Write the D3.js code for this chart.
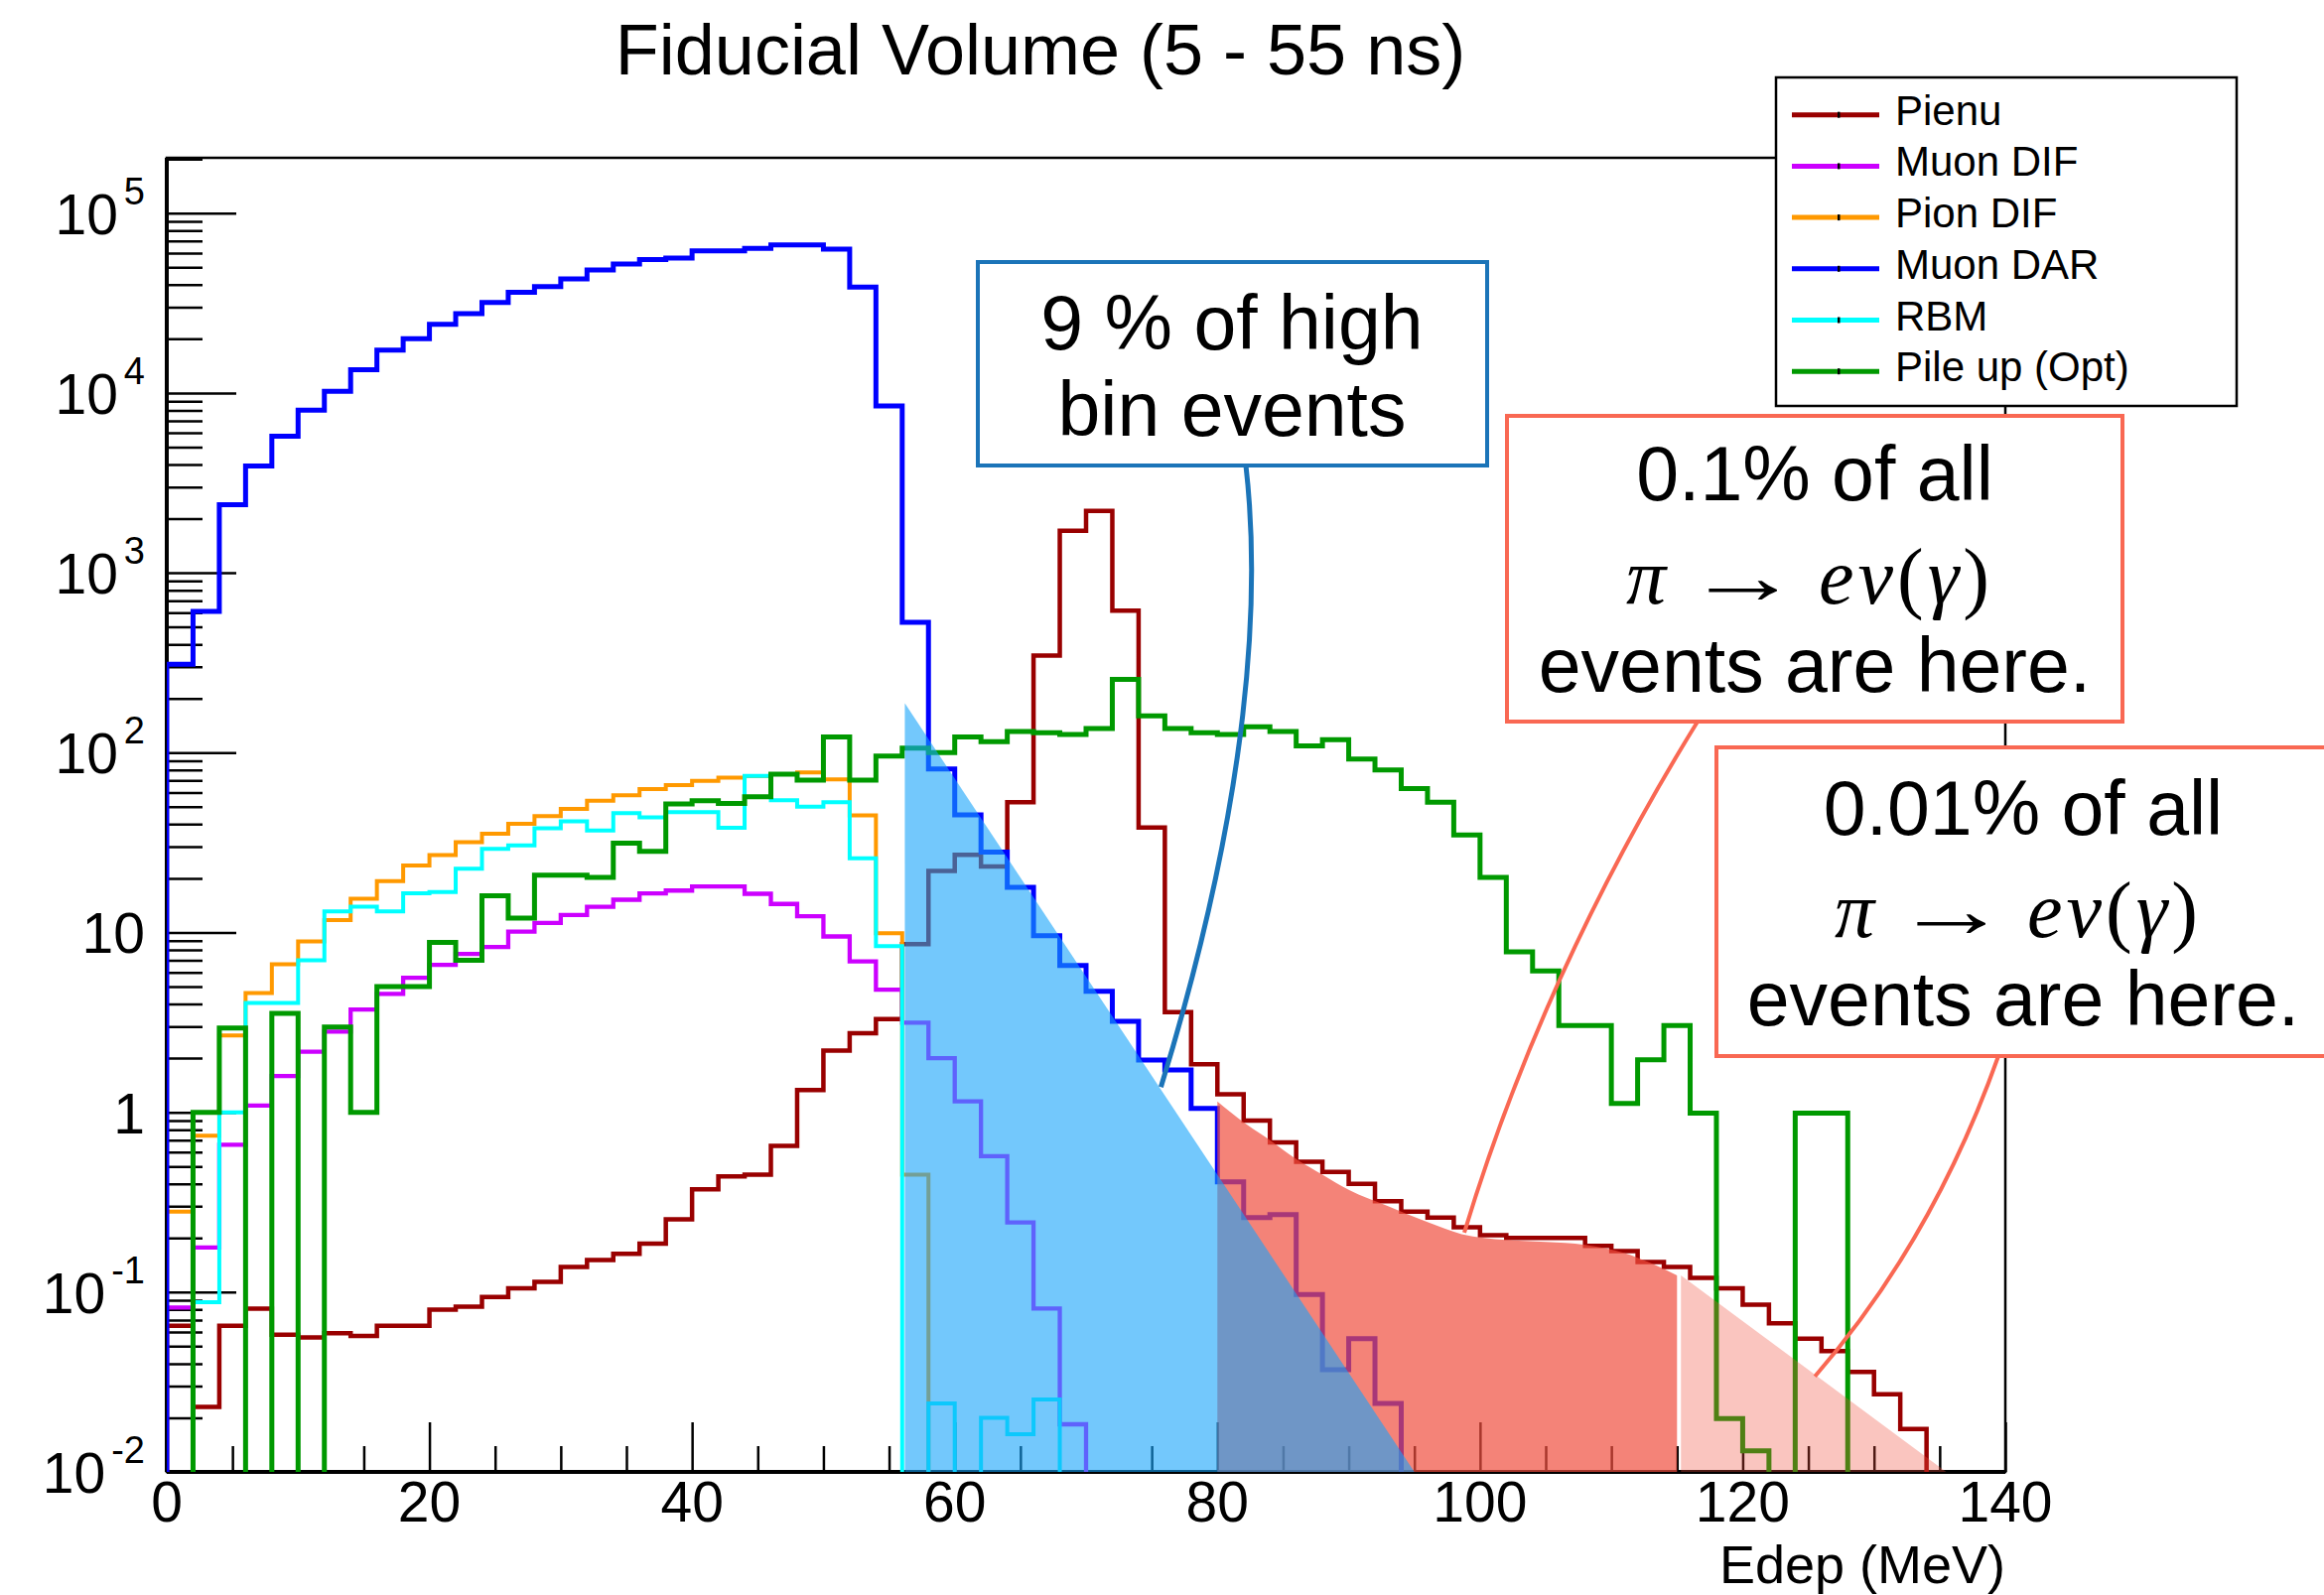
<!DOCTYPE html>
<meta charset="utf-8">
<script src="https://d3js.org/d3.v7.min.js"></script>
<style>
body{margin:0;background:#fff;}
text{font-family:'Liberation Sans',Arial,Helvetica,sans-serif;}
.math{font-family:'Liberation Serif','DejaVu Serif',serif;}
</style>
<div id="chart"></div>
<script>
// histograms: 70 bins of 2 MeV from 0 to 140 MeV (bin i = [2i, 2i+2])
var pienu = [0.065,0.023,0.065,0.081,0.058,0.056,0.059,0.057,0.065,0.065,
  0.080,0.083,0.094,0.105,0.114,0.138,0.151,0.163,0.186,0.254,
  0.373,0.44,0.45,0.65,1.33,2.2,2.75,3.3,8.6,22,
  27,23.3,53,346,1714,2207,615,38.3,3.6,1.85,
  1.26,0.90,0.68,0.53,0.466,0.40,0.32,0.28,0.26,0.229,
  0.207,0.20,0.20,0.20,0.181,0.169,0.147,0.138,0.12,0.105,
  0.085,0.067,0.055,0.047,0.036,0.027,0.0173,0,0,0]
var muonDIF = [0.082,0.177,0.66,1.09,1.59,2.17,2.81,3.73,4.55,5.6,
  6.6,7.6,8.3,10.1,11.3,12.5,13.9,15.2,16.5,17.1,
  18,18,16.4,14.4,12.3,9.5,6.9,4.8,3.15,2.0,
  1.15,0.57,0.244,0.081,0.0184,0,0,0,0,0,
  0,0,0,0,0,0,0,0,0,0,
  0,0,0,0,0,0,0,0,0,0,
  0,0,0,0,0,0,0,0,0,0]
var pionDIF = [0.28,0.74,2.67,4.6,6.65,8.9,11.7,15.4,19.3,23.6,
  26.9,31.8,35.4,40.2,44.3,48.6,54,58,62.7,66,
  69.7,72.6,74,75.9,77.5,71,44.7,9.9,0.45,0,
  0,0,0,0,0,0,0,0,0,0,
  0,0,0,0,0,0,0,0,0,0,
  0,0,0,0,0,0,0,0,0,0,
  0,0,0,0,0,0,0,0,0,0]
var muonDAR = [310,610,2390,3920,5750,8020,10200,13460,17300,20000,
  24100,27600,31800,36300,39000,43000,48300,52100,55200,56300,
  61600,61600,63700,66500,66500,63000,38800,8470,530,81,
  45,28,17.8,9.6,6.55,4.7,3.2,1.95,1.72,1.05,
  0.41,0.26,0.27,0.097,0.037,0.055,0.024,0,0,0,
  0,0,0,0,0,0,0,0,0,0,
  0,0,0,0,0,0,0,0,0,0]
var rbm = [0,0.088,1.0,4.06,4.06,7.0,13.1,13.9,13.1,16.5,
  16.8,22.6,29.2,30.5,38,41.5,36.9,46,43.7,46.6,
  46.6,38.2,74.2,54.4,50,52.9,25.8,8.4,0,0.024,
  0,0.020,0.0162,0.0253,0,0,0,0,0,0,
  0,0,0,0,0,0,0,0,0,0,
  0,0,0,0,0,0,0,0,0,0,
  0,0,0,0,0,0,0,0,0,0]
var pileUp = [0,1.0,2.94,0,3.55,0,2.98,1.0,5.0,5.0,
  8.8,7.0,16,12,20.8,20.8,20.2,31.4,28.2,51.8,
  54,52.2,56.9,75.9,70.3,122,70.3,95.7,106,100,
  122,115,131,129,126,136,255,160,136,129,
  126,139,131,109,118,92,80,63,53,34.8,
  20.2,7.8,6.1,3.04,3.04,1.12,1.96,3.04,0.99,0.0198,
  0.0131,0,0.99,0.99,0,0,0,0,0,0]

var seriesNames = ["Pienu","Muon DIF","Pion DIF","Muon DAR","RBM","Pile up (Opt)"]
var seriesColors = ["#990000","#cc00ff","#ff9900","#0000ff","#00ffff","#009900"]
var seriesValues = [pienu, muonDIF, pionDIF, muonDAR, rbm, pileUp]
var seriesWidths = [4.5,4.3,4,5,4,5]

// shaded regions (E in MeV, counts)
var blueFit = [[56.2,188],[95,0.01],[56.2,0.01]]
var redCurve = [[80,1.15],[82,0.88],[84,0.70],[86,0.55],[88,0.45],[90,0.37],[93,0.30],
  [96,0.245],[98.6,0.21],[102,0.195],[105,0.19],[108,0.183],[111,0.165],[113,0.145],[115,0.124]]
var pinkFit = [[115.3,0.124],[135.5,0.01],[115.3,0.01]]

var xMajor = d3.range(0,141,20)
var xMinor = d3.range(0,141,5)
var decades = d3.range(-2,6)

var W = 2341, H = 1607
var m = {left:168, right:2020, top:159, bottom:1483}
var x = d3.scaleLinear().domain([0,140]).range([m.left,m.right])
var y = d3.scaleLog().domain([0.01,2.03e5]).range([m.bottom,m.top])

var svg = d3.select("#chart").append("svg").attr("width",W).attr("height",H)
svg.append("rect").attr("width",W).attr("height",H).attr("fill","#fff")

svg.append("defs").append("clipPath").attr("id","plotClip")
  .append("rect").attr("x",m.left).attr("y",m.top)
  .attr("width",m.right-m.left).attr("height",m.bottom-m.top)

// frame
svg.append("rect").attr("x",m.left).attr("y",m.top)
  .attr("width",m.right-m.left).attr("height",m.bottom-m.top)
  .attr("fill","none").attr("stroke","#000").attr("stroke-width",2.5)

function styleAxis(g){
  g.select(".domain").remove()
  g.selectAll(".tick line").attr("stroke","#000").attr("stroke-width",2.5)
}
// x ticks
svg.append("g").attr("transform","translate(0,"+m.bottom+")")
  .call(d3.axisBottom(x).tickValues(xMinor.filter(function(v){return v%20!=0})).tickSize(-26).tickFormat(""))
  .call(styleAxis)
svg.append("g").attr("transform","translate(0,"+m.bottom+")")
  .call(d3.axisBottom(x).tickValues(xMajor).tickSize(-50).tickFormat(""))
  .call(styleAxis)

// y ticks
var yMinor = []
decades.forEach(function(d){
  for(var k=2;k<=9;k++){ var v=k*Math.pow(10,d); if(v<y.domain()[1]) yMinor.push(v) }
})
svg.append("g").attr("transform","translate("+m.left+",0)")
  .call(d3.axisLeft(y).tickValues(yMinor).tickSize(-36).tickFormat(""))
  .call(styleAxis)
svg.append("g").attr("transform","translate("+m.left+",0)")
  .call(d3.axisLeft(y).tickValues(decades.map(function(d){return Math.pow(10,d)})).tickSize(-70).tickFormat(""))
  .call(styleAxis)

// axis lines
svg.append("line").attr("x1",m.left).attr("x2",m.right).attr("y1",m.bottom).attr("y2",m.bottom)
  .attr("stroke","#000").attr("stroke-width",4)
svg.append("line").attr("x1",m.left).attr("x2",m.left).attr("y1",m.top).attr("y2",m.bottom)
  .attr("stroke","#000").attr("stroke-width",4)

// x labels
svg.selectAll(".xlab").data(xMajor).enter().append("text")
  .attr("x",function(d){return x(d)}).attr("y",1533)
  .attr("text-anchor","middle").attr("font-size",57).text(function(d){return d})

// y labels
decades.forEach(function(d){
  var t = svg.append("text").attr("x",146).attr("y",y(Math.pow(10,d))+21)
    .attr("text-anchor","end").attr("font-size",57)
  if(d==0){ t.text("1") }
  else if(d==1){ t.text("10") }
  else {
    t.append("tspan").text("10")
    t.append("tspan").attr("dy",-30).attr("font-size",38).attr("dx",6).text(d)
  }
})

svg.append("text").attr("x",m.right).attr("y",1595).attr("text-anchor","end")
  .attr("font-size",54).text("Edep (MeV)")
svg.append("text").attr("x",1048).attr("y",75).attr("text-anchor","middle")
  .attr("font-size",72).text("Fiducial Volume (5 - 55 ns)")

// histograms
function stepPoints(vals){
  var pts = [[0,0]]
  vals.forEach(function(v,i){ pts.push([i*2,v]); pts.push([i*2+2,v]) })
  pts.push([140,0])
  return pts
}
var floorY = m.bottom+30
var stepLine = d3.line()
  .x(function(d){return x(d[0])})
  .y(function(d){return d[1]>0 ? y(d[1]) : floorY})

var plot = svg.append("g").attr("clip-path","url(#plotClip)")
seriesValues.forEach(function(vals,i){
  plot.append("path").attr("d",stepLine(stepPoints(vals)))
    .attr("fill","none").attr("stroke",seriesColors[i])
    .attr("stroke-width",seriesWidths[i])
})

// shaded regions
var poly = d3.line().x(function(d){return x(d[0])}).y(function(d){return y(d[1])})
var redArea = d3.area().curve(d3.curveMonotoneX)
  .x(function(d){return x(d[0])}).y0(m.bottom).y1(function(d){return y(d[1])})
plot.append("path").attr("d",redArea(redCurve)).attr("fill","#f04e3e").attr("fill-opacity",0.7)
plot.append("path").attr("d",poly(pinkFit)+"Z").attr("fill","#f04e3e").attr("fill-opacity",0.33)
plot.append("path").attr("d",poly(blueFit)+"Z").attr("fill","#16a3fa").attr("fill-opacity",0.6)

// annotation boxes
var blueC = "#1b74b8", redC = "#f96853"
function box(bx,by,bw,bh,color){
  svg.append("rect").attr("x",bx).attr("y",by).attr("width",bw).attr("height",bh)
    .attr("fill","#fff").attr("stroke",color).attr("stroke-width",4)
}
function mathLine(cx,by){
  svg.append("text").attr("class","math").attr("x",cx-190).attr("y",by)
    .attr("font-size",80).attr("font-style","italic").text("π")
  svg.append("text").attr("class","math")
    .attr("transform","translate("+(cx-130)+","+by+") scale(1.45,1)")
    .attr("font-size",80).text("→")
  var t = svg.append("text").attr("class","math").attr("x",cx+4).attr("y",by)
    .attr("font-size",80).attr("letter-spacing",4)
  t.append("tspan").attr("font-style","italic").text("eν")
  t.append("tspan").text("(")
  t.append("tspan").attr("font-style","italic").text("γ")
  t.append("tspan").text(")")
}
function label(cx,by,txt){
  svg.append("text").attr("x",cx).attr("y",by).attr("text-anchor","middle")
    .attr("font-size",77).text(txt)
}

box(985,264,513,205,blueC)
label(1241,352,"9 % of high")
label(1241,439,"bin events")

box(1518,419,620,308,redC)
label(1828,504,"0.1% of all")
mathLine(1828,608)
label(1828,697,"events are here.")

box(1729,753,620,311,redC)
label(2038,841,"0.01% of all")
mathLine(2038,944)
label(2038,1033,"events are here.")

// pointers
svg.append("path").attr("d","M1255,469 C1270,600 1260,800 "+x(75.7)+","+y(1.38))
  .attr("fill","none").attr("stroke",blueC).attr("stroke-width",5)
svg.append("path").attr("d","M1710,727 Q1555,978 "+x(98.8)+","+y(0.214))
  .attr("fill","none").attr("stroke",redC).attr("stroke-width",4)
svg.append("path").attr("d","M2013,1064 Q1947,1250 "+x(125.5)+","+y(0.034))
  .attr("fill","none").attr("stroke",redC).attr("stroke-width",4)

// legend
var lg = svg.append("g")
lg.append("rect").attr("x",1789).attr("y",78).attr("width",464).attr("height",331)
  .attr("fill","#fff").attr("stroke","#000").attr("stroke-width",2.5)
seriesNames.forEach(function(n,i){
  var ly = 115.7+i*51.7
  lg.append("line").attr("x1",1805).attr("x2",1893).attr("y1",ly).attr("y2",ly)
    .attr("stroke",seriesColors[i]).attr("stroke-width",5)
  lg.append("rect").attr("x",1851).attr("y",ly-3).attr("width",2.5).attr("height",6).attr("fill","#000")
  lg.append("text").attr("x",1909).attr("y",ly+10).attr("font-size",42).text(n)
})
</script>
